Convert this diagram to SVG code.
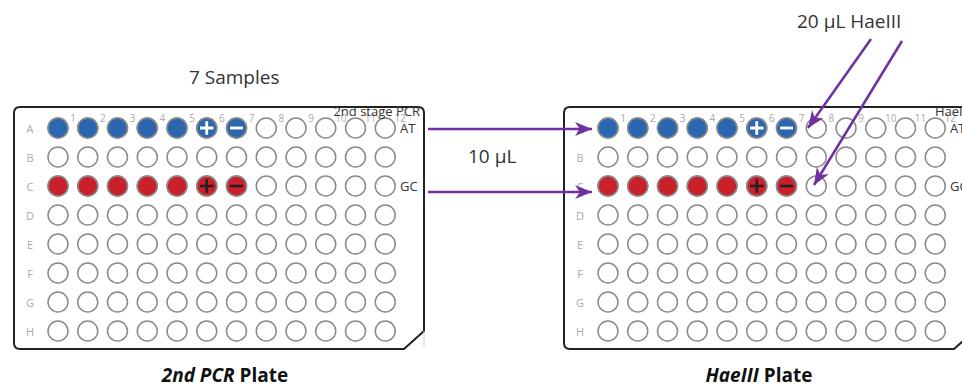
<svg xmlns="http://www.w3.org/2000/svg" xmlns:xlink="http://www.w3.org/1999/xlink" width="962" height="388" viewBox="0 0 962 388">
<style>
.outline{fill:#fff;stroke:#222;stroke-width:2}
.well{fill:#fff;stroke:#8a8a8a;stroke-width:1.5}
.blue{fill:#2b66b1;stroke:#8a8a8a;stroke-width:1.5}
.red{fill:#c9202a;stroke:#8a8a8a;stroke-width:1.5}
.num{font-family:"Open Sans","Liberation Sans",sans-serif;font-size:10px;fill:#aaa;text-anchor:middle}
.row{font-family:"Open Sans","Liberation Sans",sans-serif;font-size:11px;fill:#aaa;text-anchor:middle}
.lab{font-family:"Open Sans","Liberation Sans",sans-serif;font-size:13px;fill:#333}
.big{font-family:"Open Sans","Liberation Sans",sans-serif;font-size:19px;fill:#333}
.title{font-family:"Open Sans","Liberation Sans",sans-serif;font-size:19px;font-weight:bold;fill:#111;text-anchor:middle}
.wsym{stroke:#fff;stroke-width:2.8;fill:none}
.dsym{stroke:#222;stroke-width:2.6;fill:none}
.arrow{stroke:#7030a0;stroke-width:2.5;fill:none;marker-end:url(#ah)}
</style>
<defs>
<marker id="ah" markerUnits="userSpaceOnUse" markerWidth="18" markerHeight="14" refX="17" refY="7" orient="auto">
<path d="M0,0 L17,7 L0,14 L5,7 Z" fill="#7030a0"/>
</marker>
<g id="wellrow">
<circle class="well" cx="58" cy="0" r="10"/><circle class="well" cx="87.75" cy="0" r="10"/><circle class="well" cx="117.5" cy="0" r="10"/><circle class="well" cx="147.25" cy="0" r="10"/><circle class="well" cx="177" cy="0" r="10"/><circle class="well" cx="206.75" cy="0" r="10"/><circle class="well" cx="236.5" cy="0" r="10"/><circle class="well" cx="266.25" cy="0" r="10"/><circle class="well" cx="296" cy="0" r="10"/><circle class="well" cx="325.75" cy="0" r="10"/><circle class="well" cx="355.5" cy="0" r="10"/><circle class="well" cx="385.25" cy="0" r="10"/>
</g>
<g id="plate">
<path class="outline" d="M20,107 H418 Q424,107 424,113 V331 L404,349 H20 Q14,349 14,343 V113 Q14,107 20,107 Z"/>
<line x1="424" y1="331" x2="424" y2="347" stroke="#ccc" stroke-width="1"/>
<use xlink:href="#wellrow" y="128"/><use xlink:href="#wellrow" y="157"/><use xlink:href="#wellrow" y="186"/><use xlink:href="#wellrow" y="215"/><use xlink:href="#wellrow" y="244"/><use xlink:href="#wellrow" y="273"/><use xlink:href="#wellrow" y="302"/><use xlink:href="#wellrow" y="331"/>
<circle class="blue" cx="58" cy="128" r="10"/><circle class="blue" cx="87.75" cy="128" r="10"/><circle class="blue" cx="117.5" cy="128" r="10"/><circle class="blue" cx="147.25" cy="128" r="10"/><circle class="blue" cx="177" cy="128" r="10"/><circle class="blue" cx="206.75" cy="128" r="10"/><circle class="blue" cx="236.5" cy="128" r="10"/>
<path class="wsym" d="M200,128 H213.5 M206.75,121.25 V134.75"/>
<path class="wsym" d="M230,128 H243" stroke-width="2.2"/>
<circle class="red" cx="58" cy="186" r="10"/><circle class="red" cx="87.75" cy="186" r="10"/><circle class="red" cx="117.5" cy="186" r="10"/><circle class="red" cx="147.25" cy="186" r="10"/><circle class="red" cx="177" cy="186" r="10"/><circle class="red" cx="206.75" cy="186" r="10"/><circle class="red" cx="236.5" cy="186" r="10"/>
<path class="dsym" d="M200,186 H213.5 M206.75,179.25 V192.75"/>
<path class="dsym" d="M230,186 H243" stroke-width="2"/>
<text class="num" x="73" y="122">1</text><text class="num" x="102.75" y="122">2</text><text class="num" x="132.5" y="122">3</text><text class="num" x="162.25" y="122">4</text><text class="num" x="192" y="122">5</text><text class="num" x="221.75" y="122">6</text><text class="num" x="251.5" y="122">7</text><text class="num" x="281.25" y="122">8</text><text class="num" x="311" y="122">9</text><text class="num" x="340.75" y="122">10</text><text class="num" x="370.5" y="122">11</text><text class="num" x="400.25" y="122">12</text>
<text class="row" x="30" y="133">A</text><text class="row" x="30" y="162">B</text><text class="row" x="30" y="191">C</text><text class="row" x="30" y="220">D</text><text class="row" x="30" y="249">E</text><text class="row" x="30" y="278">F</text><text class="row" x="30" y="307">G</text><text class="row" x="30" y="336">H</text>
<text class="lab" x="400" y="133">AT</text>
<text class="lab" x="400" y="191">GC</text>
</g>
</defs>
<g id="pcr-plate">
<use xlink:href="#plate"/>
<text class="lab" x="420" y="116" text-anchor="end">2nd stage PCR</text>
<text class="big" x="189" y="84">7 Samples</text>
<text class="title" x="225" y="382"><tspan font-style="italic">2nd PCR</tspan> Plate</text>
</g>
<g id="haeiii-plate">
<use xlink:href="#plate" x="550"/>
<text class="lab" x="970" y="116" text-anchor="end">HaeIII</text>
<text class="title" x="759" y="382"><tspan font-style="italic">HaeIII</tspan> Plate</text>
</g>
<g id="connectors">
<line class="arrow" x1="428" y1="129" x2="592" y2="129"/>
<line class="arrow" x1="428" y1="192" x2="592" y2="192"/>
<line class="arrow" x1="871" y1="39" x2="808" y2="128"/>
<line class="arrow" x1="902" y1="41" x2="814" y2="185"/>
<text class="big" x="468" y="163">10 µL</text>
<text class="big" x="797" y="28">20 µL HaeIII</text>
</g>
</svg>
